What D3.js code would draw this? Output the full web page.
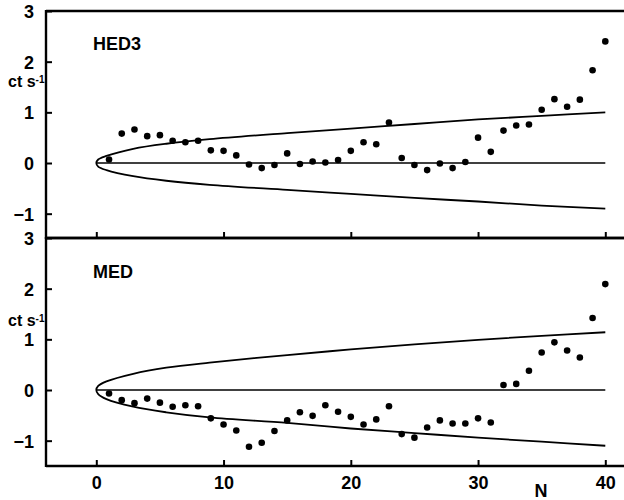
<!DOCTYPE html>
<meta charset="utf-8">
<script src="https://d3js.org/d3.v7.min.js"></script>
<style>
  body { margin: 0; background: #fff; }
  text { font-family: 'Liberation Sans Narrow', 'Liberation Sans', Arial, sans-serif; font-weight: bold; fill: #000; }
</style>
<body>
<div id="my_dataviz"></div>
<script>

// bin number N = 1..40
var bins = d3.range(1, 41);

// HED3 counts (ct s-1)
var hed3 = [0.07, 0.58, 0.66, 0.53, 0.55, 0.44, 0.41, 0.44, 0.25, 0.24,
            0.15, -0.03, -0.10, -0.04, 0.19, -0.02, 0.03, 0.01, 0.06, 0.24,
            0.41, 0.37, 0.80, 0.10, -0.04, -0.14, -0.01, -0.10, 0.02, 0.50,
            0.22, 0.64, 0.74, 0.76, 1.05, 1.26, 1.11, 1.25, 1.83, 2.40];

// MED counts
var med = [-0.07, -0.20, -0.26, -0.17, -0.25, -0.33, -0.30, -0.32, -0.56, -0.68,
           -0.80, -1.12, -1.04, -0.81, -0.60, -0.44, -0.51, -0.30, -0.43, -0.53,
           -0.68, -0.58, -0.32, -0.87, -0.94, -0.74, -0.60, -0.66, -0.66, -0.56,
           -0.64, 0.10, 0.12, 0.38, 0.74, 0.94, 0.78, 0.64, 1.42, 2.09];

// envelope curves, read at a few N
var envN      = [0, 0.15, 0.8, 2.9, 5.5, 8.9, 15, 20, 25, 30, 35, 40];
var hedUpper  = [0, 0.07, 0.14, 0.28, 0.38, 0.47, 0.59, 0.68, 0.77, 0.86, 0.93, 1.00];
var hedLower  = [0, -0.07, -0.14, -0.26, -0.35, -0.43, -0.53, -0.61, -0.69, -0.76, -0.84, -0.90];
var medUpper  = [0, 0.08, 0.17, 0.32, 0.44, 0.54, 0.69, 0.80, 0.90, 0.99, 1.07, 1.14];
var medLower  = [0, -0.08, -0.18, -0.33, -0.44, -0.54, -0.65, -0.76, -0.85, -0.94, -1.02, -1.10];

var xTicks = [0, 10, 20, 30, 40];
var yTicks = [-1, 0, 1, 2, 3];

var W = 624, H = 500;
var left = 46, right = 626;

var svg = d3.select("#my_dataviz")
  .append("svg")
    .attr("width", W)
    .attr("height", H);

var x = d3.scaleLinear()
  .domain([0, 40])
  .range([96.3, 605.3]);

var panels = [
  { name: "HED3", data: hed3, up: hedUpper, lo: hedLower, top: 11, bottom: 238, ymin: -1.48, labelY: 50, unitY: 87 },
  { name: "MED",  data: med,  up: medUpper, lo: medLower, top: 238, bottom: 466, ymin: -1.5, labelY: 278, unitY: 326 }
];

panels.forEach(function(p, i) {
  var y = d3.scaleLinear()
    .domain([p.ymin, 3])
    .range([p.bottom, p.top]);

  var g = svg.append("g");

  // y axis: ticks pointing in
  var yAxis = d3.axisLeft(y).tickValues(yTicks).tickSize(-6).tickPadding(12)
    .tickFormat(d3.format("d"));
  var ya = g.append("g")
    .attr("transform", "translate(" + left + ",0)")
    .call(yAxis);
  ya.select(".domain").remove();
  ya.selectAll("line").attr("stroke", "#000").attr("stroke-width", 2);
  ya.selectAll("text").style("font-size", "18px").attr("dy", "0.36em");

  // x ticks on the bottom line of each panel, pointing up
  var xAxis = d3.axisBottom(x).tickValues(xTicks).tickSize(-6).tickPadding(8);
  var xa = g.append("g")
    .attr("transform", "translate(0," + p.bottom + ")")
    .call(xAxis);
  xa.select(".domain").remove();
  xa.selectAll("line").attr("stroke", "#000").attr("stroke-width", 2);
  if (i == 0) {
    xa.selectAll("text").remove();
  } else {
    xa.selectAll("text").style("font-size", "18px").attr("dy", "0.85em");
  }

  // frame lines
  g.append("line")
    .attr("x1", left).attr("x2", right)
    .attr("y1", p.top).attr("y2", p.top)
    .attr("stroke", "#000").attr("stroke-width", 2.4);
  g.append("line")
    .attr("x1", left).attr("x2", right)
    .attr("y1", p.bottom).attr("y2", p.bottom)
    .attr("stroke", "#000").attr("stroke-width", 2.4);
  g.append("line")
    .attr("x1", left).attr("x2", left)
    .attr("y1", p.top - 1).attr("y2", p.bottom + 1)
    .attr("stroke", "#000").attr("stroke-width", 2.4);

  // zero line
  g.append("line")
    .attr("x1", x(0)).attr("x2", x(40))
    .attr("y1", y(0)).attr("y2", y(0))
    .attr("stroke", "#000").attr("stroke-width", 1.6);

  // envelope: lower branch reversed, then upper branch
  var pts = [];
  for (var k = envN.length - 1; k >= 1; k--) pts.push([envN[k], p.lo[k]]);
  pts.push([envN[0], p.lo[0]]);
  for (var k = 1; k < envN.length; k++) pts.push([envN[k], p.up[k]]);

  var line = d3.line()
    .x(function(d) { return x(d[0]); })
    .y(function(d) { return y(d[1]); })
    .curve(d3.curveCatmullRom.alpha(0.5));
  g.append("path")
    .datum(pts)
    .attr("fill", "none")
    .attr("stroke", "#000")
    .attr("stroke-width", 1.8)
    .attr("d", line);

  // dots
  g.append("g")
    .selectAll("circle")
    .data(p.data)
    .enter()
    .append("circle")
      .attr("cx", function(d, j) { return x(bins[j]); })
      .attr("cy", function(d) { return y(d); })
      .attr("r", 3.3)
      .attr("fill", "#000");

  // panel label
  g.append("text")
    .attr("x", 93).attr("y", p.labelY)
    .style("font-size", "18px")
    .text(p.name);

  // unit label
  var u = g.append("text")
    .attr("x", 8).attr("y", p.unitY)
    .style("font-size", "16px");
  u.append("tspan").text("ct s");
  u.append("tspan").attr("dy", "-0.4em").style("font-size", "10px").text("-1");
});

// x title
svg.append("text")
  .attr("x", 541).attr("y", 497)
  .attr("text-anchor", "middle")
  .style("font-size", "18px")
  .text("N");

</script>
</body>
